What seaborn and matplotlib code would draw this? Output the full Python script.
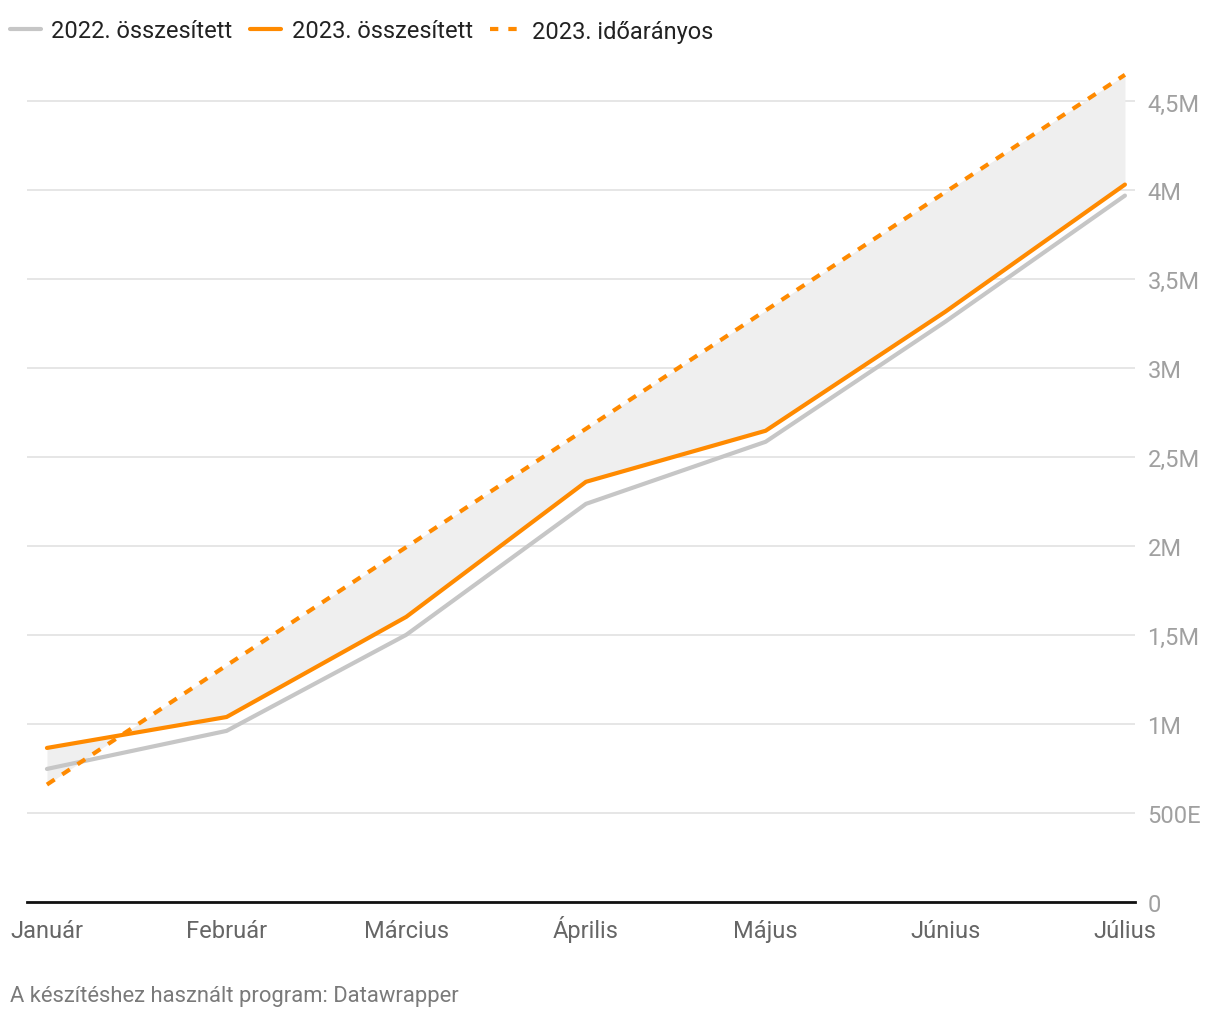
import matplotlib
matplotlib.use("Agg")
import matplotlib.pyplot as plt
import seaborn as sns
import pandas as pd
import numpy as np
from matplotlib.lines import Line2D

months = ["Január", "Február", "Március", "Április", "Május", "Június", "Július"]
v2022 = [0.748, 0.962, 1.502, 2.238, 2.587, 3.262, 3.971]
v2023 = [0.866, 1.040, 1.603, 2.362, 2.649, 3.318, 4.033]
v2023_ido = [0.660, 1.330, 1.995, 2.660, 3.325, 3.990, 4.650]
yticks = [0, 0.5, 1, 1.5, 2, 2.5, 3, 3.5, 4, 4.5]
ytick_labels = ["0", "500E", "1M", "1,5M", "2M", "2,5M", "3M", "3,5M", "4M", "4,5M"]

sns.set_theme(style="white")
plt.rcParams['font.family'] = ['Roboto', 'DejaVu Sans']

ORANGE = "#ff8a00"
GRAY = "#c6c6c6"

df = pd.DataFrame({
    "x": np.arange(len(months)),
    "2022. összesített": np.array(v2022) * 1e6,
    "2023. összesített": np.array(v2023) * 1e6,
    "2023. időarányos": np.array(v2023_ido) * 1e6,
})

fig = plt.figure(figsize=(12.2, 10.2), dpi=100)
ax = fig.add_axes([27/1220, 1 - 903/1020, (1135-27)/1220, (903-58)/1020])

ax.fill_between(df["x"], df["2023. összesített"], df["2023. időarányos"],
                color="#efefef", linewidth=0, zorder=1)
sns.lineplot(data=df, x="x", y="2022. összesített", ax=ax, color=GRAY, lw=3, zorder=3)
sns.lineplot(data=df, x="x", y="2023. összesített", ax=ax, color=ORANGE, lw=3, zorder=4)
sns.lineplot(data=df, x="x", y="2023. időarányos", ax=ax, color=ORANGE, lw=3,
             dashes=False, zorder=4).lines[-1].set_dashes([2.2, 2.2])

ax.set_xlim(-0.111, 6.056)
ax.set_ylim(0, 4.75e6)
ax.set_xticks(df["x"])
ax.set_xticklabels(months, fontsize=17, color="#666666", va="baseline")
ax.set_yticks(np.array(yticks) * 1e6)
ax.set_yticklabels(ytick_labels, fontsize=17, color="#a0a0a0")
ax.yaxis.tick_right()
ax.tick_params(axis="y", length=0, pad=9)
ax.tick_params(axis="x", length=0, pad=25)
ax.set_xlabel("")
ax.set_ylabel("")
ax.grid(axis="y", color="#e2e2e2", lw=1.2, zorder=0)
for s in ["top", "left", "right"]:
    ax.spines[s].set_visible(False)
ax.spines["bottom"].set_color("#111111")
ax.spines["bottom"].set_linewidth(2)
ax.spines["bottom"].set_zorder(5)

handles = [
    Line2D([], [], color=GRAY, lw=3),
    Line2D([], [], color=ORANGE, lw=3),
    Line2D([], [], color=ORANGE, lw=3, dashes=[2.0, 2.4]),
]
fig.legend(handles, ["2022. összesített", "2023. összesített", "2023. időarányos"],
           loc="center left", bbox_to_anchor=(10/1220, 1 - 32/1020), ncol=3, frameon=False,
           fontsize=17, handlelength=1.3, handletextpad=0.45, columnspacing=0.75,
           labelcolor="#222222", borderaxespad=0.0, borderpad=0.0)

fig.text(10/1220, 1 - 997/1020, "A készítéshez használt program: Datawrapper",
         fontsize=15.8, color="#7a7a7a", va="center", ha="left")

fig.savefig("out.png", dpi=100)
